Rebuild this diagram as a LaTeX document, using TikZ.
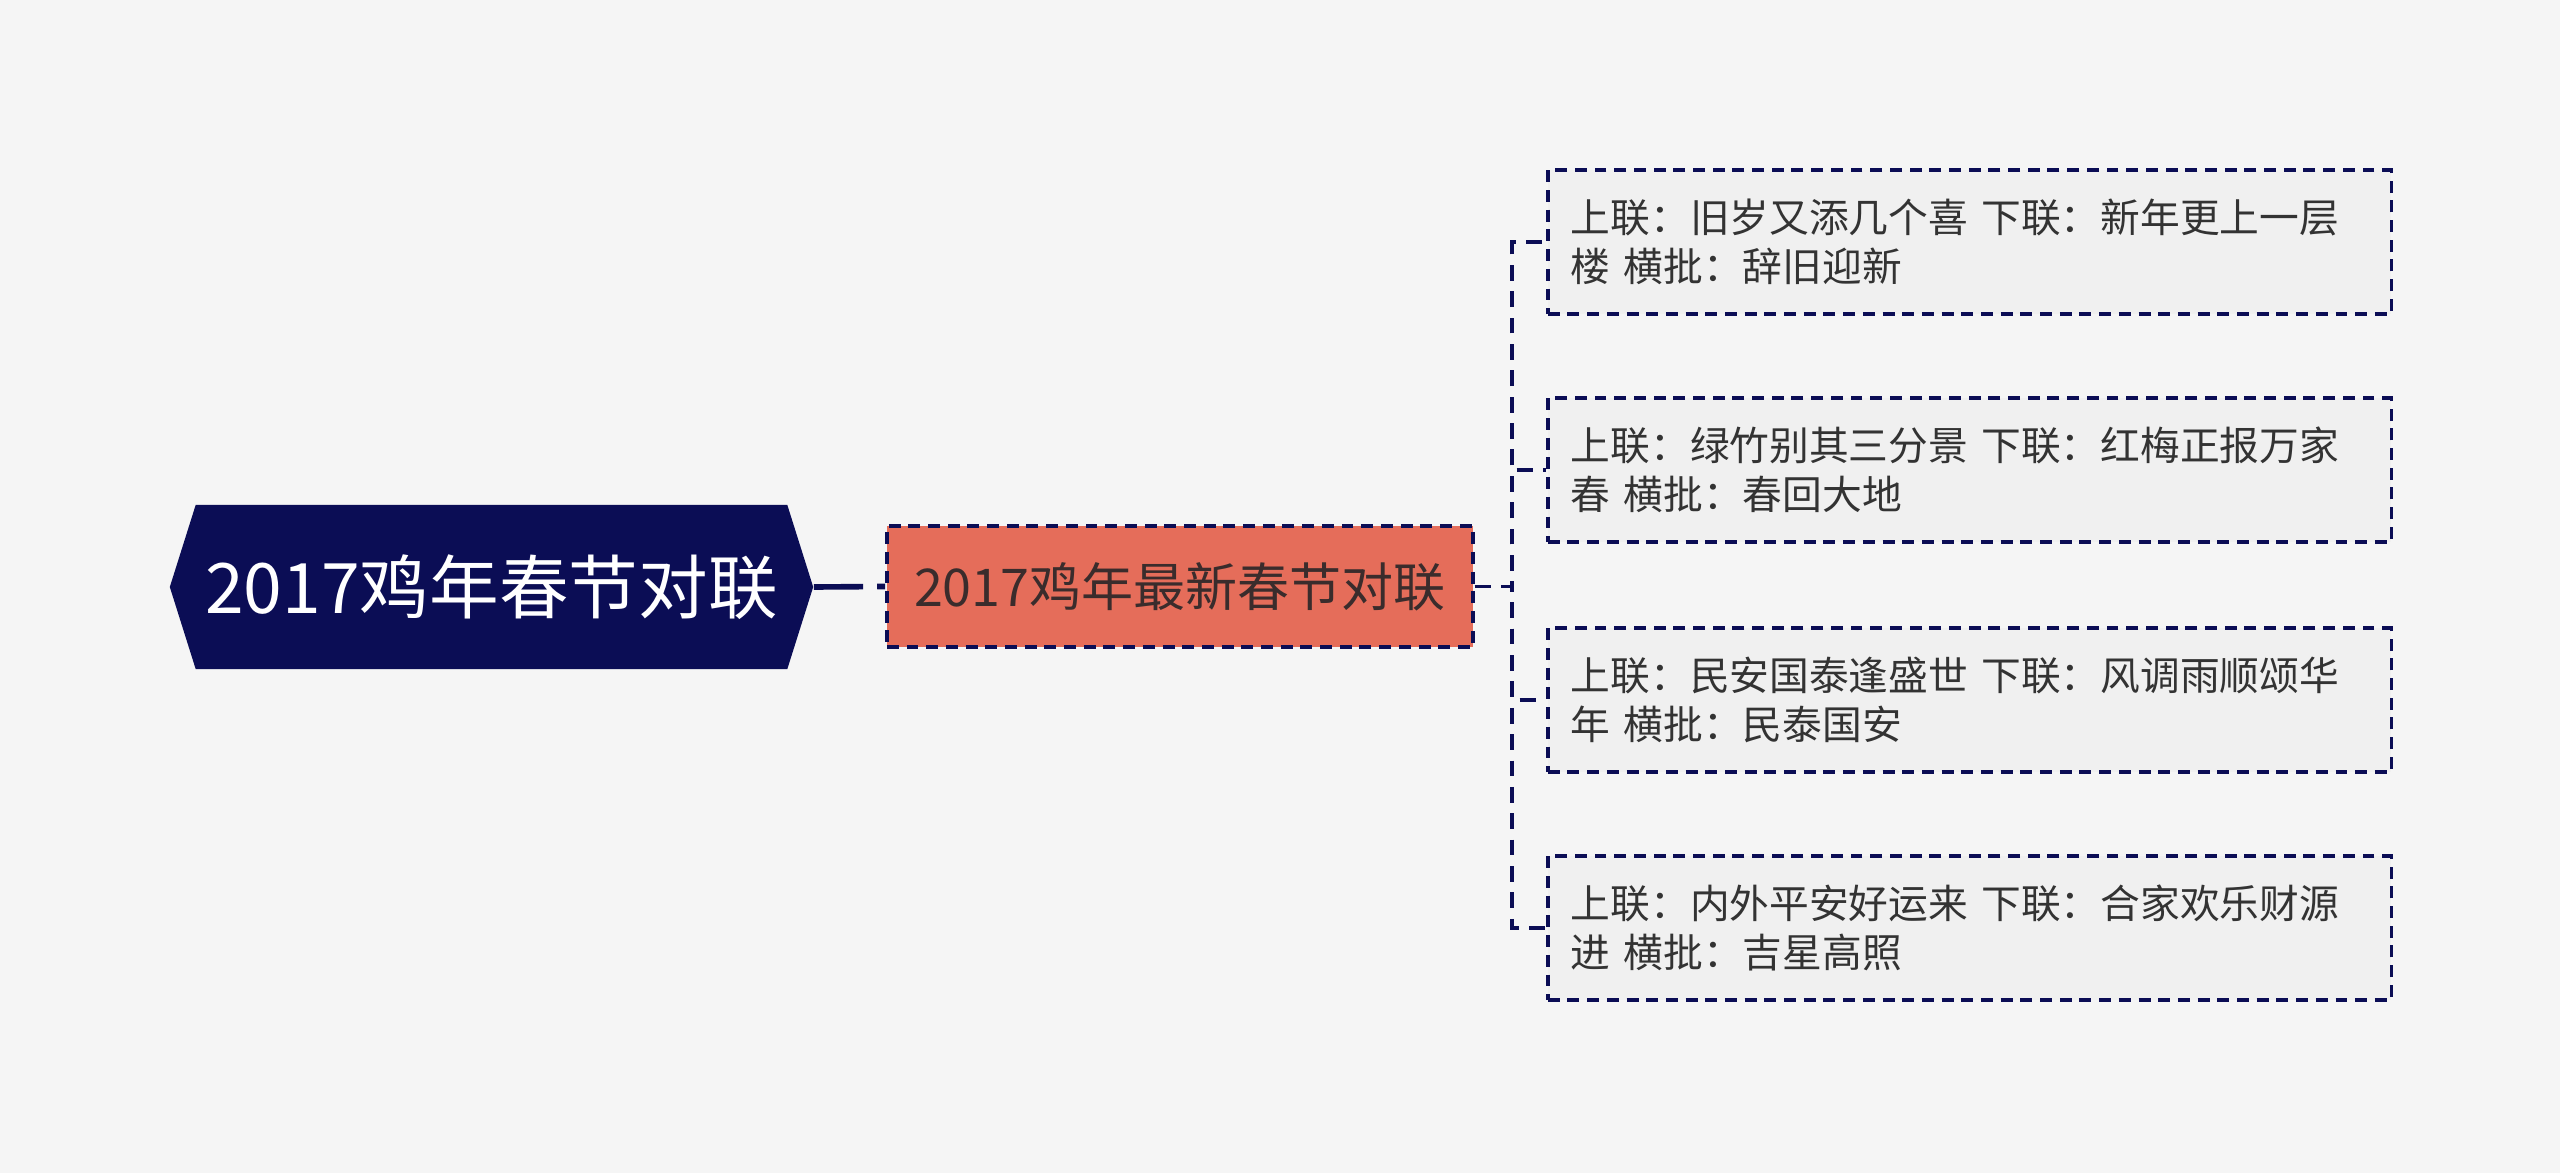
\documentclass[tikz,border=0pt]{standalone}
\usepackage{fontspec}
\setmainfont{Noto Sans CJK SC}
\usepackage{tikz}
\usetikzlibrary{shapes.symbols,positioning,backgrounds}
\definecolor{navy}{HTML}{0B0D55}
\definecolor{coral}{HTML}{E56D5A}
\definecolor{leafbg}{HTML}{F0F0F0}
\definecolor{pagebg}{HTML}{F5F5F5}
\definecolor{inkdark}{HTML}{333333}
\definecolor{inkbrown}{HTML}{3A2C2C}
\tikzset{%
rootnode/.style={signal, signal to=west and east, signal pointer angle=145, fill=navy, text=white,
  minimum width=6.43cm, minimum height=1.64cm, inner sep=0pt, font=\fontsize{19.8pt}{24pt}\selectfont},
topicnode/.style={rectangle, draw=navy, line width=1pt, dash pattern=on 3.4pt off 2.2pt, fill=coral,
  text=inkbrown, minimum width=5.86cm, minimum height=1.21cm, inner sep=0pt, font=\fontsize{14.8pt}{18pt}\selectfont},
leafnode/.style={rectangle, draw=navy, line width=1pt, dash pattern=on 3.4pt off 2.2pt, fill=leafbg,
  text=inkdark, anchor=west, text width=7.97cm, align=left, inner xsep=0.23cm, minimum height=1.44cm,
  font=\fontsize{11.3pt}{13.9pt}\selectfont},
pt/.style={draw=navy, line width=0.9pt, dash pattern=on 4.5pt off 3pt},
ptroot/.style={draw=navy, line width=1.6pt, dash pattern=on 14pt off 4pt}
}
\begin{document}
\begin{tikzpicture}[x=0.01cm, y=-0.01cm]
	\fill[pagebg] (0,0) rectangle (2560,1173);
	\useasboundingbox (0,0) rectangle (2560,1173);

	\node[rootnode] (root) at (491.5,587) {2017鸡年春节对联};
	\node[topicnode] (topic) at (1180,586.5) {2017鸡年最新春节对联};

	\node[leafnode] (c1) at (1546,242) {上联：旧岁又添几个喜 下联：新年更上一层\\楼 横批：辞旧迎新};
	\node[leafnode] (c2) at (1546,470) {上联：绿竹别其三分景 下联：红梅正报万家\\春 横批：春回大地};
	\node[leafnode] (c3) at (1546,700) {上联：民安国泰逢盛世 下联：风调雨顺颂华\\年 横批：民泰国安};
	\node[leafnode] (c4) at (1546,928) {上联：内外平安好运来 下联：合家欢乐财源\\进 横批：吉星高照};

	\path[ptroot] (root.east) -- (topic.west);
	\foreach \c in {c1,c2,c3,c4}
		\path[pt] (topic.east) -- ++(37,0) |- (\c.west);
\end{tikzpicture}
\end{document}
